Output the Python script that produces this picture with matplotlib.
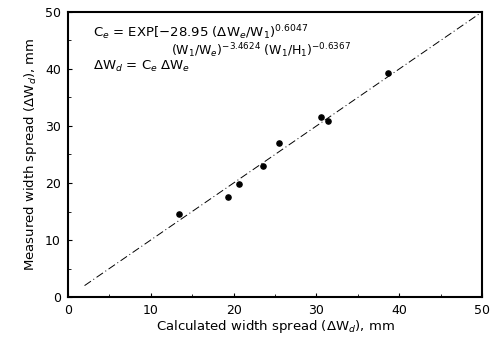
import matplotlib
matplotlib.use("Agg")
import matplotlib.pyplot as plt
import numpy as np

calc = [13.4, 19.3, 20.6, 23.6, 25.5, 30.5, 31.4, 38.6]
meas = [14.6, 17.5, 19.9, 22.9, 27.0, 31.5, 30.8, 39.3]
line_x = [2, 50]
line_y = [2, 50]
ticks = [0, 10, 20, 30, 40, 50]

plt.rcParams['mathtext.fontset'] = 'dejavusans'
fig = plt.figure(figsize=(5.01, 3.38), dpi=100)
ax = fig.add_axes([0.1357, 0.1213, 0.8263, 0.8432])
ax.plot(line_x, line_y, color='black', lw=0.7, ls=(0, (8, 3, 1, 3)))
ax.scatter(calc, meas, s=14, color='black', zorder=3)
ax.set_xlim(0, 50)
ax.set_ylim(0, 50)
ax.set_xticks(ticks)
ax.set_yticks(ticks)
ax.set_xticks(np.arange(5, 50, 10), minor=True)
ax.set_yticks(np.arange(5, 50, 10), minor=True)
ax.tick_params(direction='in', length=3, width=0.8, labelsize=9, pad=5)
ax.tick_params(which='minor', direction='in', length=2, width=0.6)
for s in ax.spines.values():
    s.set_linewidth(1.5)
ax.set_xlabel(r'Calculated width spread ($\Delta$W$_d$), mm', fontsize=9.5, labelpad=1)
ax.set_ylabel(r'Measured width spread ($\Delta$W$_d$), mm', fontsize=9.5, labelpad=4)
ax.text(3, 45.5, r'C$_e$ = EXP[$-$28.95 ($\Delta$W$_e$/W$_1$)$^{0.6047}$', fontsize=9.5)
ax.text(12.5, 42.5, r'(W$_1$/W$_e$)$^{-3.4624}$ (W$_1$/H$_1$)$^{-0.6367}$', fontsize=9)
ax.text(3, 39.8, r'$\Delta$W$_d$ = C$_e$ $\Delta$W$_e$', fontsize=9.5)
fig.savefig('out.png', dpi=100)
